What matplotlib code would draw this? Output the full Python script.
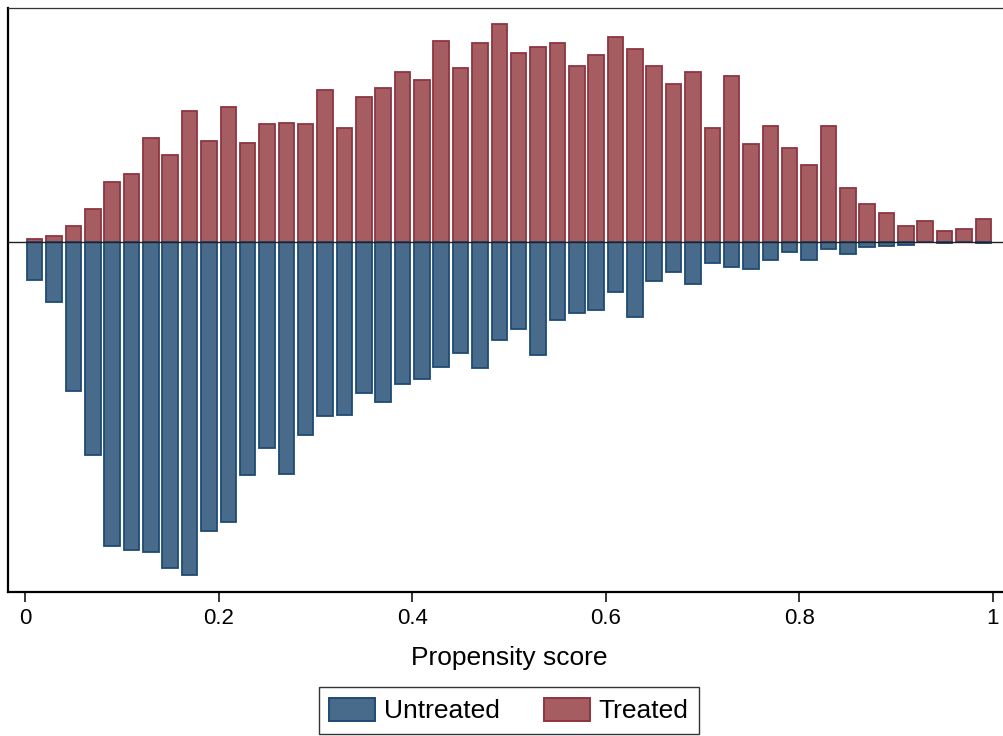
import matplotlib
matplotlib.use("Agg")
import matplotlib.pyplot as plt
import numpy as np
from matplotlib.patches import Patch

plt.rcParams['font.family'] = ['Liberation Sans', 'DejaVu Sans']

# bin centers of the propensity score histogram (bin width 0.02)
bin_centers = [round(0.01 + 0.02 * i, 2) for i in range(50)]

treated = [0.024, 0.06, 0.16, 0.33, 0.594, 0.68, 1.034, 0.864, 1.304, 1.01,
           1.344, 0.99, 1.174, 1.19, 1.174, 1.514, 1.134, 1.444, 1.534, 1.697,
           1.614, 2.004, 1.734, 1.984, 2.174, 1.884, 1.944, 1.984, 1.754, 1.864,
           2.044, 1.924, 1.754, 1.574, 1.697, 1.134, 1.654, 0.974, 1.154, 0.934,
           0.764, 1.154, 0.534, 0.374, 0.284, 0.16, 0.204, 0.104, 0.124, 0.224]

untreated = [0.383, 0.60, 1.493, 2.133, 3.043, 3.083, 3.103, 3.266, 3.333, 2.893,
             2.803, 2.336, 2.063, 2.323, 1.933, 1.743, 1.733, 1.516, 1.606, 1.426,
             1.376, 1.253, 1.113, 1.263, 0.986, 0.876, 1.136, 0.783, 0.716, 0.686,
             0.506, 0.756, 0.396, 0.303, 0.426, 0.216, 0.253, 0.276, 0.183, 0.103,
             0.183, 0.073, 0.126, 0.053, 0.043, 0.033, 0.0, 0.016, 0.0, 0.016]

xticks = [0, 0.2, 0.4, 0.6, 0.8, 1]
xtick_labels = ['0', '0.2', '0.4', '0.6', '0.8', '1']

blue_fill = '#486b8c'
blue_edge = '#1f4a73'
red_fill = '#a55d62'
red_edge = '#8e3540'

W, H = 1004, 736
fig = plt.figure(figsize=(W / 100, H / 100), dpi=100)
ax = fig.add_axes([8 / W, 1 - 592 / H, (W - 8) / W, (592 - 8) / H])

bw = 0.016
ax.bar(bin_centers, treated, width=bw, color=red_fill, edgecolor=red_edge,
       linewidth=1.3, zorder=2)
ax.bar(bin_centers, [-v for v in untreated], width=bw, color=blue_fill,
       edgecolor=blue_edge, linewidth=1.3, zorder=2)
ax.axhline(0, color='#222222', linewidth=1.0, zorder=3)

ax.set_xlim((8 - 25) / 968, (W - 25) / 968)
ax.set_ylim(-3.503, 2.337)

ax.set_xticks(xticks)
ax.set_xticklabels(xtick_labels, fontsize=16)
ax.tick_params(axis='x', direction='out', length=7.5, width=1.1, pad=4, color='black')
ax.set_yticks([])

for side in ['left', 'bottom']:
    ax.spines[side].set_linewidth(1.6)
    ax.spines[side].set_color('black')
ax.spines['top'].set_linewidth(0.9)
ax.spines['top'].set_color('#333333')
ax.spines['right'].set_visible(False)

fig.text(509 / W, 1 - 658 / H, 'Propensity score', fontsize=19,
         ha='center', va='center')

handles = [Patch(facecolor=blue_fill, edgecolor=blue_edge, linewidth=1.4, label='Untreated'),
           Patch(facecolor=red_fill, edgecolor=red_edge, linewidth=1.4, label='Treated')]
leg = fig.legend(handles=handles, loc='upper center', bbox_to_anchor=(509 / W, 1 - 687 / H),
                 ncol=2, fontsize=19, frameon=True, fancybox=False,
                 edgecolor='black', handlelength=1.74, handleheight=0.98,
                 handletextpad=0.34, columnspacing=1.65, borderpad=0.4,
                 borderaxespad=0)
leg.get_frame().set_linewidth(1.0)

fig.savefig('out.png', dpi=100)
